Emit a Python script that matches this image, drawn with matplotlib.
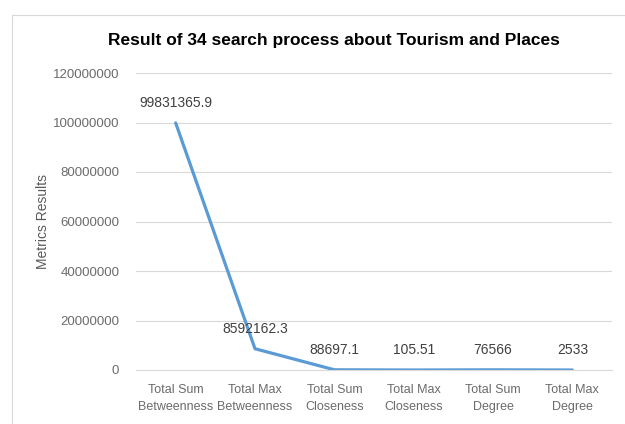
import matplotlib.pyplot as plt
from matplotlib.patches import Rectangle

categories = ["Total Sum\nBetweenness", "Total Max\nBetweenness", "Total Sum\nCloseness",
              "Total Max\nCloseness", "Total Sum\nDegree", "Total Max\nDegree"]
values = [99831365.9, 8592162.3, 88697.1, 105.51, 76566, 2533]
labels = ["99831365.9", "8592162.3", "88697.1", "105.51", "76566", "2533"]
yticks = [0, 20000000, 40000000, 60000000, 80000000, 100000000, 120000000]

plt.rcParams['font.family'] = ['Liberation Sans', 'DejaVu Sans']

fig = plt.figure(figsize=(6.25, 4.24), dpi=100)
W, H = 625, 424
ax = fig.add_axes([136 / W, 1 - 370 / H, (612 - 136) / W, (370 - 73) / H])

# outer chart border
fig.patches.append(Rectangle((12 / W, -0.1), 1.2, 1 - 15 / H + 0.1, transform=fig.transFigure,
                             fill=False, edgecolor='#d9d9d9', linewidth=0.8))

x = list(range(len(categories)))
ax.plot(x, values, color='#5b9bd5', linewidth=2.3, solid_capstyle='round')

ax.set_xlim(-0.5, len(categories) - 0.5)
ax.set_ylim(0, 120000000)
ax.set_yticks(yticks)
ax.set_yticklabels([str(v) for v in yticks], color='#6b6b6b', fontsize=9.5)
ax.set_xticks(x)
ax.set_xticklabels(categories, color='#6b6b6b', fontsize=9, linespacing=1.55)
ax.tick_params(length=0, pad=12)
ax.tick_params(axis='x', pad=10)
ax.grid(axis='y', color='#d9d9d9', linewidth=0.8)
ax.set_axisbelow(True)
for s in ['top', 'right', 'left']:
    ax.spines[s].set_visible(False)
ax.spines['bottom'].set_color('#d9d9d9')

for i, (v, lab) in enumerate(zip(values, labels)):
    ax.annotate(lab, (i, v), xytext=(0, 9), textcoords='offset points',
                ha='center', va='bottom', fontsize=10, color='#404040')

ax.set_ylabel('Metrics Results', color='#595959', fontsize=10, labelpad=2)
fig.text(0.535, 1 - 41 / H, 'Result of 34 search process about Tourism and Places',
         ha='center', va='center', fontsize=12.5, fontweight='bold', color='black')

fig.savefig('out.png', dpi=100)
